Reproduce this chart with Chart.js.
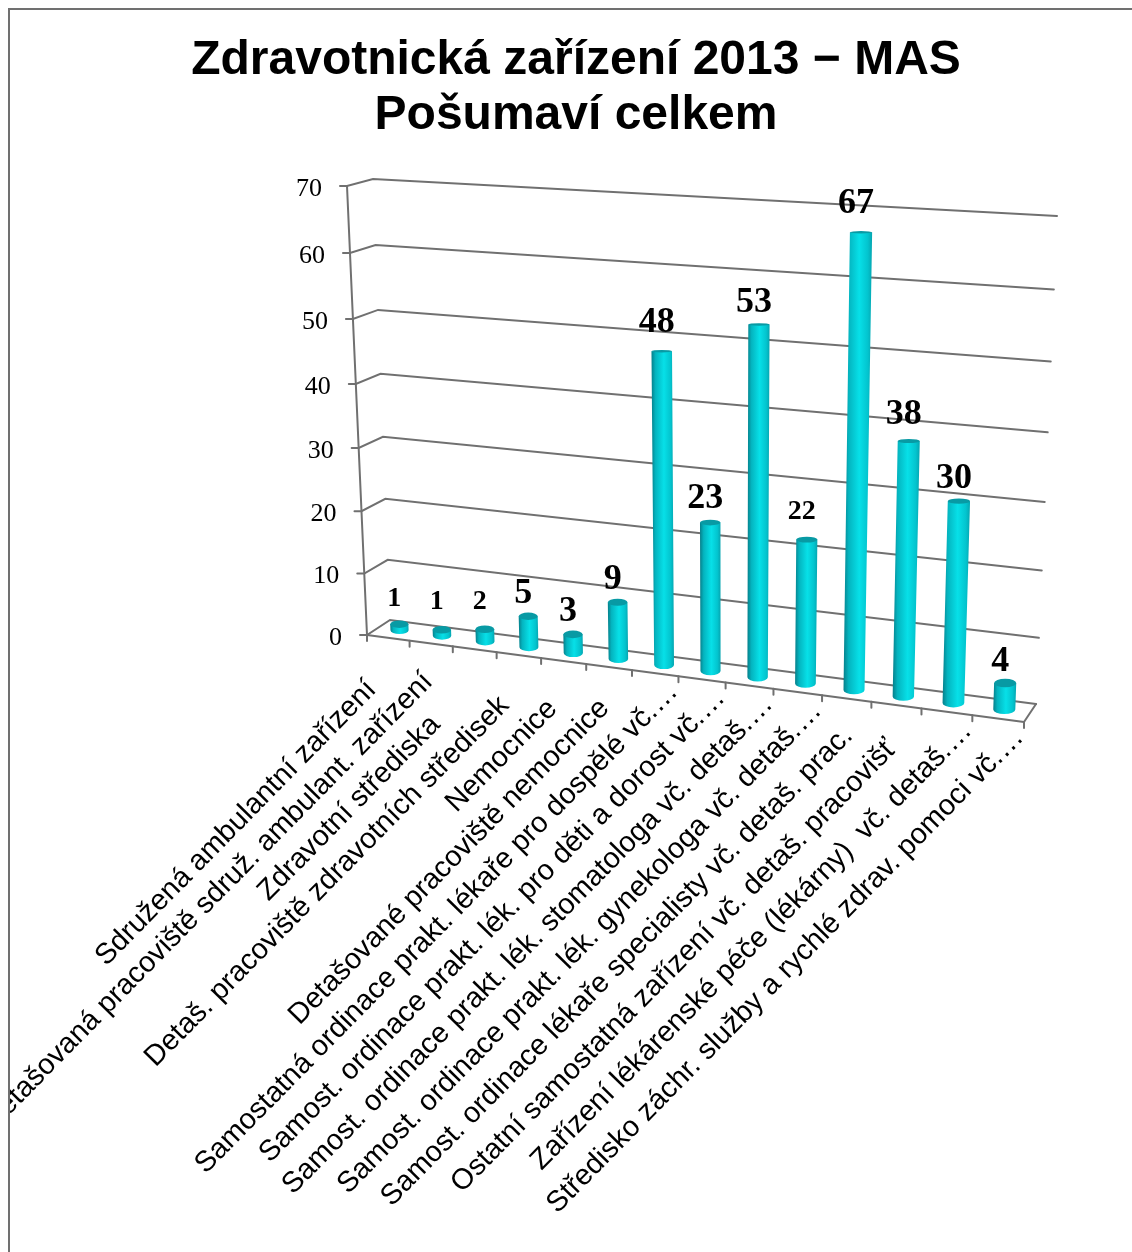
<!DOCTYPE html>
<html>
<head>
<meta charset="utf-8">
<script src="https://cdn.jsdelivr.net/npm/chart.js@4"></script>
<style>
  html, body { margin: 0; background: #fff; overflow: hidden; }
  #frame { position: absolute; left: 8px; top: 8px; width: 1130px; height: 1250px; border-left: 2px solid #707070; border-top: 2px solid #707070; overflow: hidden; }
  canvas { display: block; }
</style>
</head>
<body>
<div id="frame"><canvas id="chart" width="1132" height="1242"></canvas></div>
<script>
const categories = [
  "Sdružená ambulantní zařízení",
  "Detašovaná pracoviště sdruž. ambulant. zařízení",
  "Zdravotní střediska",
  "Detaš. pracoviště zdravotních středisek",
  "Nemocnice",
  "Detašované pracoviště nemocnice",
  "Samostatná ordinace prakt. lékaře pro dospělé vč.…",
  "Samost. ordinace prakt. lék. pro děti a dorost vč.…",
  "Samost. ordinace prakt. lék. stomatologa vč. detaš.…",
  "Samost. ordinace prakt. lék. gynekologa vč. detaš.…",
  "Samost. ordinace lékaře specialisty vč. detaš. prac.",
  "Ostatní samostatná zařízení vč. detaš. pracovišť",
  "Zařízení lékárenské péče (lékárny)  vč. detaš.…",
  "Středisko záchr. služby a rychlé zdrav. pomoci vč.…"
];
const values = [1, 1, 2, 5, 3, 9, 48, 23, 53, 22, 67, 38, 30, 4];
const titleLines = ["Zdravotnická zařízení 2013 − MAS", "Pošumaví celkem"];

// page coordinates of the 3d box, corners are bottom-left, bottom-right, top-right, top-left
const frontQuad = [[367, 635], [1024, 722], [1039, 226], [347, 186]];
const backQuad = [[390, 620], [1036, 704], [1057, 216], [373, 179]];
const midQuad = frontQuad.map((p, i) => [(p[0] + backQuad[i][0]) / 2, (p[1] + backQuad[i][1]) / 2]);
const OX = 10, OY = 10; // canvas offset on the page
const GRID = "#707070";
// layout nudges only: gap between each name and its tick, drop of each value label
const nameGaps = [47, 28, 80, 45, 41, 32, 0, 0, 0, 0, 26, 35, 0, 0];
const labelDrops = [4, 2, 2, 7, 7, 7, -1, 5, 5, 1, -1, 2, 6, 9];
const NAME_ANGLE = 45.5 * Math.PI / 180;

function quadMap(q) {
  const [x0, y0] = q[0], [x1, y1] = q[1], [x2, y2] = q[2], [x3, y3] = q[3];
  const dx1 = x1 - x2, dx2 = x3 - x2, sx = x0 - x1 + x2 - x3;
  const dy1 = y1 - y2, dy2 = y3 - y2, sy = y0 - y1 + y2 - y3;
  const den = dx1 * dy2 - dx2 * dy1;
  const g = (sx * dy2 - dx2 * sy) / den, h = (dx1 * sy - sx * dy1) / den;
  const a = x1 - x0 + g * x1, b = x3 - x0 + h * x3;
  const d = y1 - y0 + g * y1, e = y3 - y0 + h * y3;
  return (u, v) => {
    const w = g * u + h * v + 1;
    return [(a * u + b * v + x0) / w - OX, (d * u + e * v + y0) / w - OY];
  };
}
const front = quadMap(frontQuad), back = quadMap(backQuad), mid = quadMap(midQuad);

function line(ctx, p, q) {
  ctx.beginPath();
  ctx.moveTo(p[0], p[1]);
  ctx.lineTo(q[0], q[1]);
  ctx.stroke();
}

function capHeight(y) {
  return Math.max(1.2, (y + OY - 210) * 0.009);
}

function drawCylinder(ctx, el, area) {
  const u = (el.x - area.left) / area.width;
  const half = el.width / 2 / area.width;
  const v = (area.bottom - el.y) / area.height;
  const bl = mid(u - half, 0), br = mid(u + half, 0), tl = mid(u - half, v), tr = mid(u + half, v);
  const rb = (br[0] - bl[0]) / 2, rt = (tr[0] - tl[0]) / 2;
  const bot = [(bl[0] + br[0]) / 2, (bl[1] + br[1]) / 2];
  const top = [(tl[0] + tr[0]) / 2, (tl[1] + tr[1]) / 2];
  const hb = capHeight(bot[1]), ht = capHeight(top[1]);

  const grad = ctx.createLinearGradient(Math.min(tl[0], bl[0]), 0, Math.max(tr[0], br[0]), 0);
  grad.addColorStop(0, "#067f8a");
  grad.addColorStop(0.18, "#04b4bf");
  grad.addColorStop(0.55, "#07e0e8");
  grad.addColorStop(0.85, "#03c4ce");
  grad.addColorStop(1, "#05a5b0");
  ctx.fillStyle = grad;
  ctx.beginPath();
  ctx.moveTo(top[0] - rt, top[1]);
  ctx.lineTo(top[0] + rt, top[1]);
  ctx.lineTo(bot[0] + rb, bot[1]);
  ctx.ellipse(bot[0], bot[1], rb, hb, 0, 0, Math.PI);
  ctx.closePath();
  ctx.fill();

  ctx.fillStyle = "#089aa4";
  ctx.beginPath();
  ctx.ellipse(top[0], top[1], rt, ht, 0, 0, Math.PI * 2);
  ctx.fill();
  return [top[0], top[1] - ht];
}

const box3d = {
  id: "box3d",
  beforeDatasetsDraw(chart) {
    const ctx = chart.ctx, y = chart.scales.y, area = chart.chartArea;
    ctx.save();
    ctx.strokeStyle = GRID;
    ctx.lineWidth = 2;
    ctx.lineCap = "round";
    // walls: one line per tick of the value scale
    y.ticks.forEach(t => {
      const v = (area.bottom - y.getPixelForValue(t.value)) / area.height;
      const a = front(0, v), b = back(0, v), c = back(1, v);
      ctx.beginPath();
      ctx.moveTo(a[0] - 7, a[1]);
      ctx.lineTo(a[0], a[1]);
      ctx.lineTo(b[0], b[1]);
      ctx.lineTo(c[0], c[1]);
      ctx.stroke();
      ctx.fillStyle = "#000";
      ctx.font = "26px 'Liberation Serif'";
      ctx.textAlign = "right";
      ctx.textBaseline = "middle";
      ctx.fillText(t.label, a[0] - 25, a[1] + 3);
    });
    // value axis and floor
    line(ctx, front(0, 1), front(0, 0));
    line(ctx, front(0, 0), front(1, 0));
    line(ctx, front(1, 0), back(1, 0));
    // category ticks
    const n = categories.length;
    for (let i = 0; i <= n; i++) {
      const p = front(i / n, 0);
      line(ctx, p, [p[0], p[1] + 6]);
    }
    ctx.restore();
  },
  afterDatasetsDraw(chart) {
    const ctx = chart.ctx, area = chart.chartArea, x = chart.scales.x;
    const step = area.width / categories.length;
    ctx.save();
    chart.getDatasetMeta(0).data.forEach((el, i) => {
      const top = drawCylinder(ctx, el, area);
      const txt = String(values[i]);
      ctx.fillStyle = "#000";
      ctx.font = "bold " + (/^[012]+$/.test(txt) ? 28 : 36) + "px 'Liberation Serif'";
      ctx.textAlign = "center";
      ctx.textBaseline = "middle";
      ctx.fillText(txt, top[0] - 5, top[1] - 26 + labelDrops[i]);
    });
    // category names, rotated by hand since the axis is slanted
    ctx.fillStyle = "#000";
    ctx.font = "29px 'Liberation Sans'";
    ctx.textAlign = "right";
    ctx.textBaseline = "middle";
    categories.forEach((name, i) => {
      // names end at the tick right of their category
      const u = (x.getPixelForValue(i) + step / 2 - area.left) / area.width;
      const p = front(u, 0);
      ctx.save();
      ctx.translate(p[0] - 5 - nameGaps[i] * Math.cos(NAME_ANGLE), p[1] + 11 + nameGaps[i] * Math.sin(NAME_ANGLE));
      ctx.rotate(-NAME_ANGLE);
      ctx.fillText(name, 0, 0);
      ctx.restore();
    });
    ctx.restore();
  }
};

new Chart(document.getElementById("chart"), {
  type: "bar",
  data: {
    labels: categories,
    datasets: [{
      data: values,
      backgroundColor: "transparent",
      categoryPercentage: 1,
      barPercentage: 0.43
    }]
  },
  options: {
    responsive: false,
    animation: false,
    layout: { padding: { left: 60, right: 60, bottom: 200 } },
    plugins: {
      legend: { display: false },
      tooltip: { enabled: false },
      title: {
        display: true,
        text: titleLines,
        color: "#000",
        font: { family: "'Liberation Sans'", size: 48, weight: "bold", lineHeight: 1.146 },
        padding: { top: 23, bottom: 20 }
      }
    },
    scales: {
      x: { display: false },
      y: { display: false, min: 0, max: 70, ticks: { stepSize: 10 } }
    }
  },
  plugins: [box3d]
});
</script>
</body>
</html>
